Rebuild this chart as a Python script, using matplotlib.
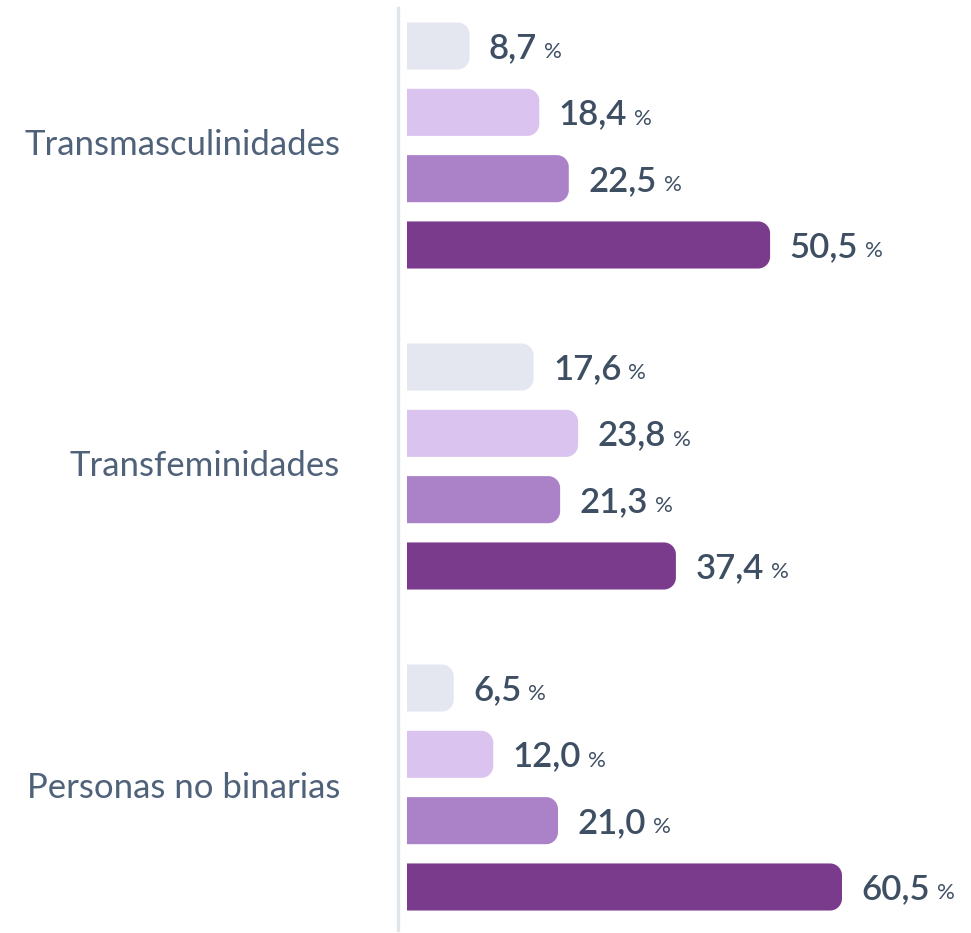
import numpy as np
import matplotlib.pyplot as plt
from matplotlib.patches import Polygon
from matplotlib.lines import Line2D
from matplotlib.transforms import blended_transform_factory

plt.rcParams['font.family'] = ['Lato', 'DejaVu Sans']

groups = ['Transmasculinidades', 'Transfeminidades', 'Personas no binarias']
trans_masc = [8.7, 18.4, 22.5, 50.5]
trans_fem = [17.6, 23.8, 21.3, 37.4]
no_binarias = [6.5, 12.0, 21.0, 60.5]
series = [trans_masc, trans_fem, no_binarias]
labels = [['8,7', '18,4', '22,5', '50,5'],
          ['17,6', '23,8', '21,3', '37,4'],
          ['6,5', '12,0', '21,0', '60,5']]

colors = ['#E4E7F0', '#DBC3EF', '#AB82C8', '#7B3B8D']
text_dark = '#3E4F63'
text_label = '#4F627A'

W, H = 971, 933
fig = plt.figure(figsize=(W / 100, H / 100), dpi=100)

# axes in pixel terms
x0_px, top_px, bot_px = 407, 8, 930
xmax = 78
px_per_unit = 7.19
ax_w_px = xmax * px_per_unit
row_px = 66.3
group_step = 4.84
ylim_top = -(46 - top_px) / row_px
ylim_bot = 3 + 2 * group_step + (bot_px - 887) / row_px

ax = fig.add_axes([x0_px / W, 1 - bot_px / H, ax_w_px / W, (bot_px - top_px) / H])
ax.set_xlim(0, xmax)
ax.set_ylim(ylim_bot, ylim_top)
ax.axis('off')

rx = 12 / px_per_unit   # corner radius in x units
ry = 12 / row_px        # corner radius in y units
bar_h = 0.71


def rounded_bar(v, y, color):
    y0, y1 = y - bar_h / 2, y + bar_h / 2
    r_x = min(rx, v / 2)
    t = np.linspace(-np.pi / 2, 0, 20)
    low = np.column_stack([v - r_x + r_x * np.cos(t), y0 + ry + ry * np.sin(t)])
    t = np.linspace(0, np.pi / 2, 20)
    high = np.column_stack([v - r_x + r_x * np.cos(t), y1 - ry + ry * np.sin(t)])
    pts = np.vstack([[[0, y0]], low, high, [[0, y1]]])
    ax.add_patch(Polygon(pts, closed=True, fc=color, ec='none'))


lab_tr = blended_transform_factory(fig.transFigure, ax.transData)

for g, vals in enumerate(series):
    ys = g * group_step + np.arange(len(vals))
    for i, (v, y) in enumerate(zip(vals, ys)):
        rounded_bar(v, y, colors[i])
        num = ax.annotate(labels[g][i], xy=(v, y), xytext=(14, -8.8),
                          textcoords='offset points', va='baseline', ha='left',
                          fontsize=25, fontweight='semibold', color=text_dark,
                          annotation_clip=False)
        ax.annotate('%', xy=(1, y), xycoords=(num, 'data'), xytext=(5, -8.8),
                    textcoords='offset points', va='baseline', ha='left',
                    fontsize=16, color=text_dark, annotation_clip=False)
    ax.text(340 / W, ys.mean(), groups[g], transform=lab_tr, ha='right',
            va='center', fontsize=25, color=text_label)

fig.add_artist(Line2D([398 / W, 398 / W], [1 - 8 / H, 1 - 930 / H],
                      color='#E1E4E9', lw=2.4, transform=fig.transFigure))

fig.savefig('out.png', dpi=100, facecolor='white')
